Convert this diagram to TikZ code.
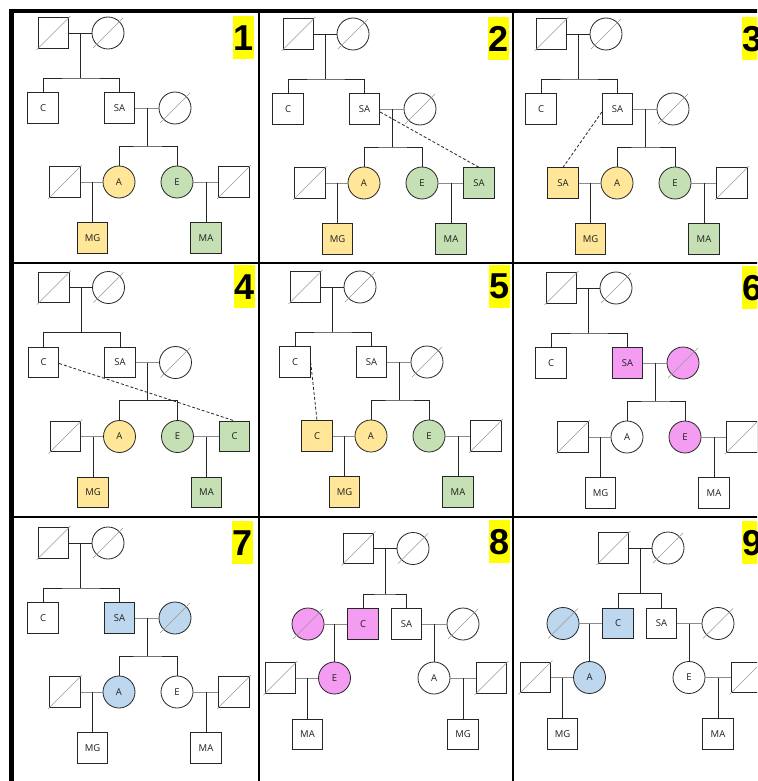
\documentclass[tikz,border=0pt]{standalone}
\usepackage{fontspec}
\newfontfamily\labfont{Open Sans}
\newfontfamily\numfont{Liberation Sans}
\definecolor{cyel}{HTML}{FFE699}
\definecolor{cgrn}{HTML}{C5E0B4}
\definecolor{cpink}{HTML}{F49BF2}
\definecolor{cblue}{HTML}{BDD7EE}
\definecolor{hlyel}{HTML}{FFFF00}
\tikzset{
 pers/.style={draw=black!85, line width=0.8pt, inner sep=0pt, font=\labfont\fontsize{9.5}{10}\selectfont, text=black!88, fill=white},
 sq/.style={pers, rectangle, minimum size=30.5pt},
 ci/.style={pers, circle, minimum size=32pt},
 ln/.style={draw=black!85, line width=0.8pt},
 mar/.style={draw=black!45, line width=0.8pt},
 dsh/.style={draw=black!85, line width=0.8pt, dash pattern=on 3pt off 2pt},
 sl/.style={draw=black!40, line width=0.6pt},
 grid/.style={draw=black, line width=2pt},
 outer/.style={draw=black, line width=4.5pt},
 numbox/.style={fill=hlyel, inner xsep=0.5pt, inner ysep=0pt, minimum height=43pt, font=\numfont\bfseries\fontsize{36}{36}\selectfont, text=black},
 fS/.style={}, fP/.style={}, fA/.style={}, fE/.style={}, fL/.style={}, fR/.style={}, fG/.style={}, fH/.style={},
 fC/.style={}, fQ/.style={}, fX/.style={}, fY/.style={}, fU/.style={}, fV/.style={}
}
\newcommand\setfillsA[8]{\tikzset{fS/.style={fill=#1},fP/.style={fill=#2},fA/.style={fill=#3},fE/.style={fill=#4},fL/.style={fill=#5},fR/.style={fill=#6},fG/.style={fill=#7},fH/.style={fill=#8}}}
\newcommand\setfillsB[6]{\tikzset{fC/.style={fill=#1},fQ/.style={fill=#2},fX/.style={fill=#3},fY/.style={fill=#4},fU/.style={fill=#5},fV/.style={fill=#6}}}
\newcommand\dslq[1]{\draw[sl] ([shift={(-17,17)}]#1.center) -- ([shift={(17,-17)}]#1.center);}
\newcommand\dslc[1]{\draw[sl] ([shift={(-15,15)}]#1.center) -- ([shift={(15,-15)}]#1.center);}
\newcommand\pedA[5]{%
\begin{scope}[shift={(#2,#3)}]
\node[sq] (#1F) at (53.5,33) {};
\node[ci] (#1M) at (108,33) {};
\node[sq] (#1C) at (43,108) {C};
\node[sq,fS] (#1S) at (119.5,108) {SA};
\node[ci,fP] (#1P) at (175,108) {};
\node[ci,fA] (#1A) at (119,182) {A};
\node[ci,fE] (#1E) at (177,182) {E};
\node[sq,fL] (#1L) at (65,182) {#4};
\node[sq,fR] (#1R) at (234,182) {#5};
\node[sq,fG] (#1G) at (92.5,238) {MG};
\node[sq,fH] (#1H) at (206,238) {MA};
\coordinate (#1b1) at (80.5,78);
\coordinate (#1b2) at (147,146);
\end{scope}
\draw[ln] (#1F) -- (#1M);
\draw[ln] (#1b1) -- (#1b1 |- #1F.center);
\draw[ln] (#1C.north) |- (#1b1) -| (#1S.north);
\draw[mar] (#1S) -- (#1P);
\draw[ln] (#1b2) -- (#1b2 |- #1S.center);
\draw[ln] (#1A.north) |- (#1b2) -| (#1E.north);
\draw[mar] (#1L) -- (#1A);
\draw[mar] (#1E) -- (#1R);
\draw[ln] (#1G.north) -- (#1G.north |- #1A.center);
\draw[ln] (#1H.north) -- (#1H.north |- #1E.center);
\dslq{#1F}\dslc{#1M}\dslc{#1P}
}
\newcommand\pedB[7]{%
\begin{scope}[shift={(#2,#3)}]
\node[sq] (#1F) at (358.5,548.5) {};
\node[ci] (#1M) at (413,548.5) {};
\node[sq,fC] (#1C) at (363,624) {C};
\node[sq] (#1S) at (406.5,624) {SA};
\node[ci,fQ] (#1Q) at (308,624) {};
\node[ci] (#1P) at (463,624) {};
\node[ci,fX] (#1X) at (334.5,678) {#4};
\node[sq,fY] (#1Y) at (307.5,734.5) {#5};
\node[ci,fU] (#1U) at (434,678) {#6};
\node[sq,fV] (#1V) at (463,734.5) {#7};
\node[sq] (#1L) at (280.5,678) {};
\node[sq] (#1R) at (491.5,678) {};
\coordinate (#1b1) at (385,594);
\end{scope}
\draw[ln] (#1F) -- (#1M);
\draw[ln] (#1b1) -- (#1b1 |- #1F.center);
\draw[ln] (#1C.north) |- (#1b1) -| (#1S.north);
\draw[mar] (#1Q) -- (#1C);
\draw[mar] (#1S) -- (#1P);
\draw[ln] (#1X.north) -- (#1X.north |- #1C.center);
\draw[ln] (#1U.north) -- (#1U.north |- #1S.center);
\draw[mar] (#1L) -- (#1X);
\draw[mar] (#1U) -- (#1R);
\draw[ln] (#1Y.north) -- (#1Y.north |- #1X.center);
\draw[ln] (#1V.north) -- (#1V.north |- #1U.center);
\dslq{#1F}\dslc{#1M}\dslc{#1Q}\dslc{#1P}\dslq{#1L}\dslq{#1R}
}
\begin{document}
\begin{tikzpicture}[x=1pt,y=-1pt]
\useasboundingbox (0,0) rectangle (757,781);
\clip (0,0) rectangle (757,781);
\fill[white] (0,0) rectangle (757,781);
% grid
\coordinate (g0) at (11.5,11);
\coordinate (gR) at (760,11);
\coordinate (gB) at (11.5,785);
\draw[grid] (259,11) -- (259,785);
\draw[grid] (513,11) -- (513,785);
\draw[grid] (11.5,263) -- (760,263);
\draw[grid] (11.5,517) -- (760,517);
\draw[outer] (9.25,11) -- (gR);
\draw[outer] (11.5,8.75) -- (gB);
% panel 1
\setfillsA{white}{white}{cyel}{cgrn}{white}{white}{cyel}{cgrn}
\pedA{pa}{0}{0}{}{}
\dslq{paL}\dslq{paR}
% panel 2
\setfillsA{white}{white}{cyel}{cgrn}{white}{cgrn}{cyel}{cgrn}
\pedA{pb}{245}{1}{}{SA}
\dslq{pbL}
\draw[dsh] ([yshift=-3pt]pbS.east) -- (pbR.north);
% panel 3
\setfillsA{white}{white}{cyel}{cgrn}{cyel}{white}{cyel}{cgrn}
\pedA{pc}{498}{1}{SA}{}
\dslq{pcR}
\draw[dsh] ([yshift=-3pt]pcS.west) -- (pcL.north);
% panel 4
\setfillsA{white}{white}{cyel}{cgrn}{white}{cgrn}{cyel}{cgrn}
\pedA{pd}{0.5}{254.5}{}{C}
\dslq{pdL}
\draw[dsh] ([yshift=-1pt]pdC.east) -- (pdR.north);
% panel 5
\setfillsA{white}{white}{cyel}{cgrn}{cyel}{white}{cyel}{cgrn}
\pedA{pe}{252}{254}{C}{}
\dslq{peR}
\draw[dsh] (peC.east) -- (peL.north);
% panel 6
\setfillsA{cpink}{cpink}{white}{cpink}{white}{white}{white}{white}
\pedA{pf}{508}{255}{}{}
\dslq{pfL}\dslq{pfR}
% panel 7
\setfillsA{cblue}{cblue}{cblue}{white}{white}{white}{white}{white}
\pedA{pg}{0}{510}{}{}
\dslq{pgL}\dslq{pgR}
% panel 8
\setfillsB{cpink}{cpink}{cpink}{white}{white}{white}
\pedB{ph}{0}{0}{E}{MA}{A}{MG}
% panel 9
\setfillsB{cblue}{cblue}{cblue}{white}{white}{white}
\pedB{pi}{255}{-0.5}{A}{MG}{E}{MA}
% numbers
\node[numbox, anchor=north east] (n1) at (254,16) {1};
\node[numbox, anchor=north east] (n2) at (509,17) {2};
\node[numbox, anchor=north west] (n3) at (742,17) {3};
\node[numbox, anchor=north east] (n4) at (255,265) {4};
\node[numbox, anchor=north east] (n5) at (510,265) {5};
\node[numbox, anchor=north west] (n6) at (742,266) {6};
\node[numbox, anchor=north east] (n7) at (253,521) {7};
\node[numbox, anchor=north east] (n8) at (510,520) {8};
\node[numbox, anchor=north west] (n9) at (742,521) {9};
\end{tikzpicture}
\end{document}
